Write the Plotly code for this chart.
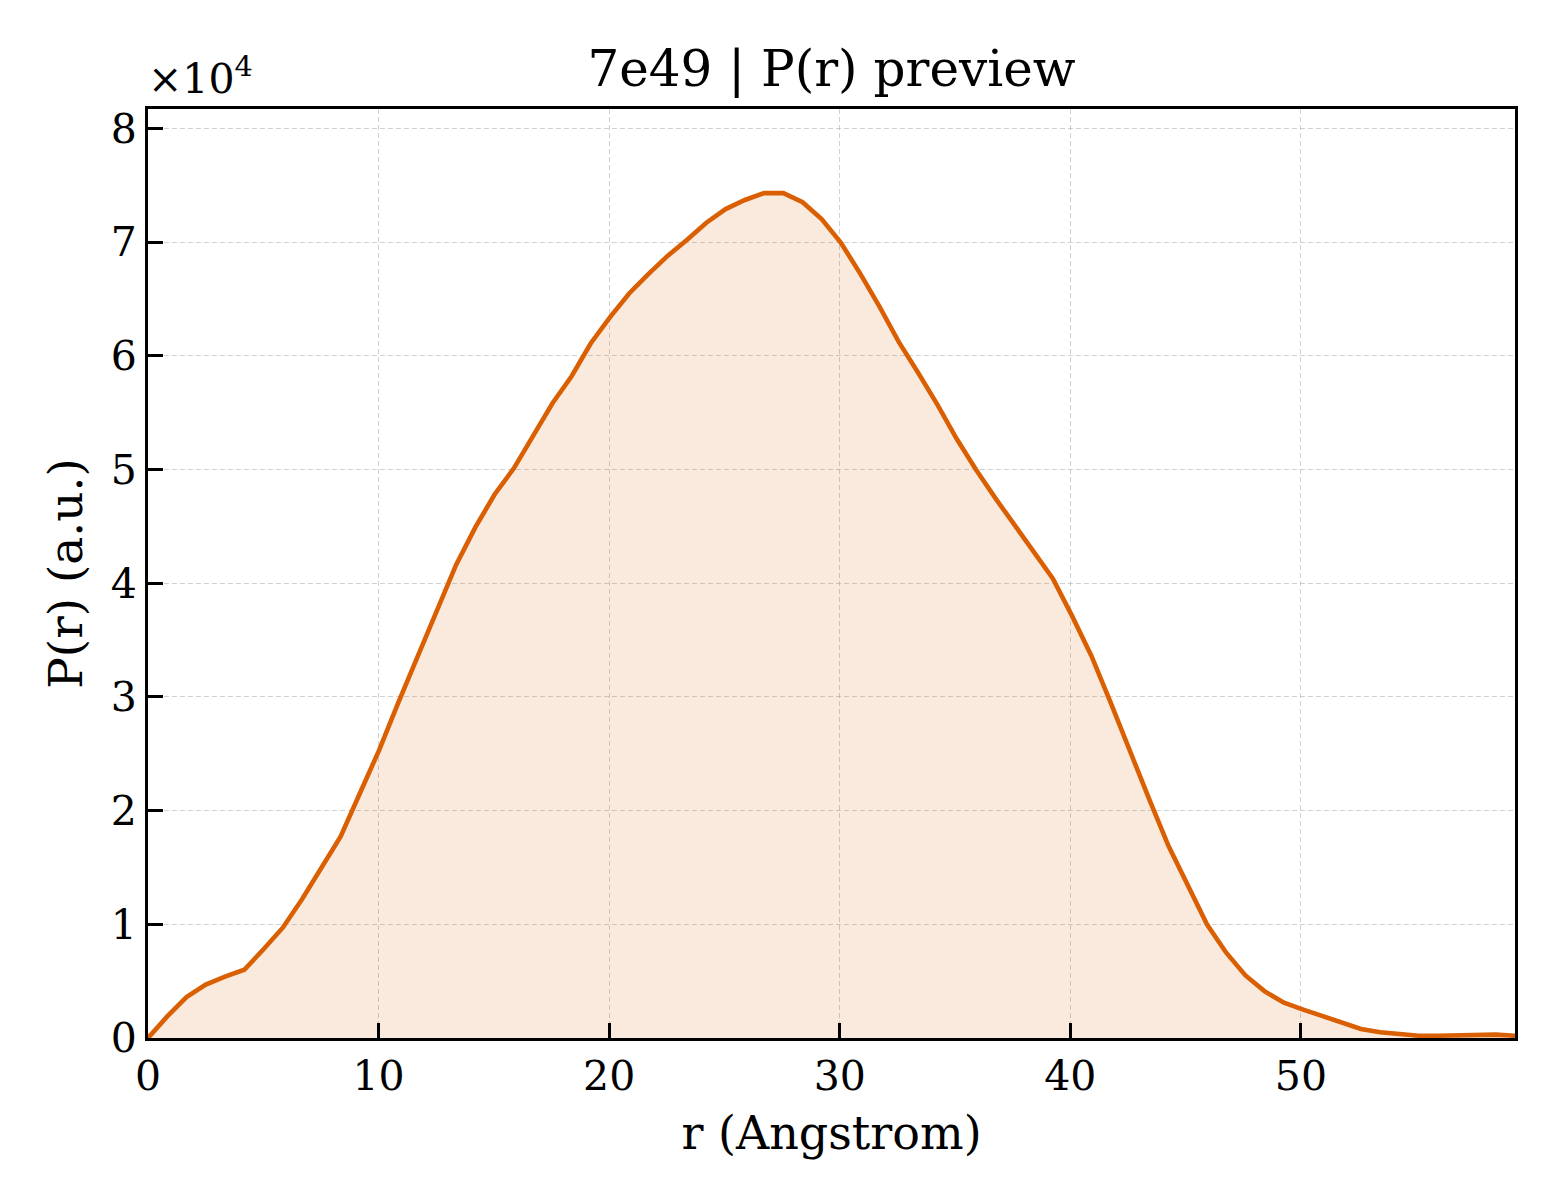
import plotly.graph_objects as go

# r grid (Angstrom)
r = [0.000, 0.835, 1.670, 2.505, 3.340, 4.175, 5.010, 5.845, 6.680, 7.515,
     8.350, 9.185, 10.020, 10.855, 11.690, 12.525, 13.360, 14.195, 15.030, 15.865,
     16.700, 17.535, 18.370, 19.205, 20.040, 20.875, 21.710, 22.545, 23.380, 24.215,
     25.050, 25.885, 26.720, 27.555, 28.390, 29.225, 30.060, 30.895, 31.730, 32.565,
     33.400, 34.235, 35.070, 35.905, 36.740, 37.575, 38.410, 39.245, 40.080, 40.915,
     41.750, 42.585, 43.420, 44.255, 45.090, 45.925, 46.760, 47.595, 48.430, 49.265,
     50.100, 50.935, 51.770, 52.605, 53.440, 54.275, 55.110, 55.945, 56.780, 57.615,
     58.450, 59.285]

# P(r) values (a.u.)
pr = [0, 1900, 3600, 4700, 5400, 6000, 7800, 9700, 12200, 15000,
      17700, 21500, 25300, 29500, 33500, 37700, 41600, 44900, 47800, 50100,
      53000, 55800, 58200, 61100, 63400, 65500, 67200, 68800, 70200, 71700,
      72900, 73700, 74300, 74300, 73500, 72000, 69900, 67200, 64300, 61200,
      58500, 55700, 52700, 50000, 47500, 45100, 42800, 40400, 37100, 33600,
      29500, 25200, 21000, 16900, 13500, 10000, 7500, 5500, 4100, 3100,
      2500, 1900, 1300, 800, 500, 300, 200, 200, 250, 300,
      300, 200]

y_tickvals = [0, 10000, 20000, 30000, 40000, 50000, 60000, 70000, 80000]
y_ticktext = ["0", "1", "2", "3", "4", "5", "6", "7", "8"]
x_tickvals = [0, 10, 20, 30, 40, 50]

title_text = "7e49 | P(r) preview"
x_title = "r (Angstrom)"
y_title = "P(r) (a.u.)"
offset_text = "×10<sup>4</sup>"

LINE = "#D95F02"
FONT = "DejaVu Serif"

fig = go.Figure()
fig.add_trace(go.Scatter(
    x=r, y=pr, mode="lines",
    line=dict(color=LINE, width=4.6),
    fill="tozeroy", fillcolor="rgba(217,95,2,0.13)",
    showlegend=False,
))

axis_common = dict(
    showline=True, linecolor="black", linewidth=2.7, mirror=True,
    ticks="inside", ticklen=15, tickwidth=2.5, tickcolor="black",
    showgrid=True, gridcolor="rgba(170,170,170,0.55)", gridwidth=1.4, griddash="5px,3px",
    zeroline=False,
    tickfont=dict(family=FONT, size=41, color="black"),
)

fig.update_xaxes(
    range=[0, 59.285], tickvals=x_tickvals,
    title=dict(text=x_title, font=dict(family=FONT, size=46, color="black"), standoff=18),
    **axis_common,
)
fig.update_yaxes(
    range=[0, 81700], tickvals=y_tickvals, ticktext=y_ticktext,
    title=dict(text=y_title, font=dict(family=FONT, size=47, color="black"), standoff=14),
    **axis_common,
)

fig.add_annotation(
    text=offset_text, xref="paper", yref="paper", x=0, y=1.0,
    xanchor="left", yanchor="bottom", yshift=4, xshift=-2, showarrow=False,
    font=dict(family=FONT, size=41, color="black"),
)

# page body has an 8px margin, so the figure is made 16px smaller
fig.update_layout(
    width=1544, height=1184,
    margin=dict(l=140, r=37, t=101, b=154),
    paper_bgcolor="white", plot_bgcolor="white",
    font=dict(family=FONT, color="black"),
    title=dict(text=title_text, x=0.5, xref="paper", y=1 - 60 / 1184, yref="container",
               xanchor="center", yanchor="middle",
               font=dict(family=FONT, size=50, color="black")),
)

fig.write_html("out.html")
